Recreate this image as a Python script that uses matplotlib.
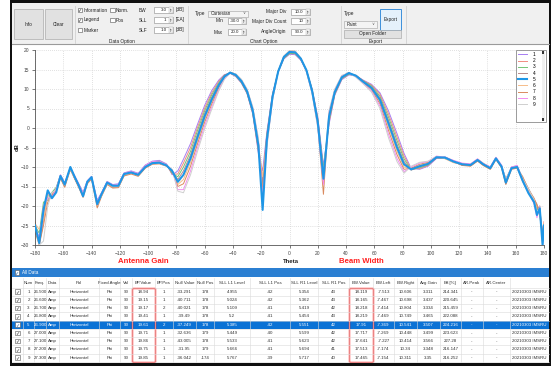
import matplotlib
matplotlib.use("Agg")
import matplotlib.pyplot as plt
from matplotlib.patches import Rectangle

plt.rcParams['font.family'] = ['Liberation Sans', 'DejaVu Sans']

W, H = 551, 366

# 放射パターン (Theta [deg] vs dB)
theta_deg = [-180, -177, -174, -171, -168, -165, -162, -159, -155, -152,
             -149, -146, -143, -140, -136, -133, -129, -125, -121, -117,
             -112, -107, -102, -97, -92, -87, -83, -79, -75, -70,
             -65, -60, -55, -50, -46, -42, -38, -34, -30, -26,
             -22, -19, -16, -12, -8, -4, 0, 4, 8, 12,
             16, 20, 24, 28, 32, 37, 42, 47, 52, 58,
             64, 70, 76, 81, 86, 92, 98, 104, 110, 116,
             122, 128, 133, 137, 142, 146, 150, 153, 157, 161,
             165, 169, 173, 175, 177, 179, 180]

gain_1 = [-25.5, -28.0, -22.0, -17.0, -17.0, -15.5, -12.0, -14.0, -10.3, -12.2,
          -14.3, -16.5, -13.5, -12.4, -18.5, -16.6, -13.7, -14.5, -14.3, -11.5,
          -11.0, -11.6, -9.5, -8.5, -8.3, -9.2, -12.0, -11.0, -8.0, -4.0,
          1.0, 5.8, 9.6, 12.3, 13.7, 14.0, 13.2, 11.5, 8.8, 3.6,
          -6.5, -11.0, -1.0, 8.8, 14.4, 17.7, 18.9, 18.8, 17.4, 14.7,
          10.0, 2.8, -9.5, 1.0, 8.4, 12.4, 13.6, 13.4, 12.3, 11.2,
          9.0, 4.4, -1.4, -6.5, -10.3, -10.6, -9.8, -7.8, -7.4, -8.4,
          -9.1, -9.4, -8.0, -9.1, -10.0, -7.6, -9.6, -13.2, -10.0, -9.7,
          -13.0, -16.0, -18.5, -20.5, -21.5, -28.0, -25.5]
gain_2 = [-24.0, -30.0, -24.0, -16.5, -17.5, -16.0, -12.5, -14.8, -10.2, -12.8,
          -15.0, -17.0, -14.0, -12.9, -19.2, -17.2, -14.2, -15.0, -14.9, -12.0,
          -11.5, -12.1, -9.9, -8.8, -8.6, -9.4, -11.8, -11.8, -9.0, -5.0,
          0.2, 5.1, 9.0, 12.0, 13.6, 14.1, 13.3, 11.6, 8.9, 3.8,
          -6.0, -13.0, -1.5, 8.6, 14.5, 17.9, 19.1, 19.0, 17.5, 14.8,
          9.9, 2.5, -11.0, 1.5, 8.6, 12.6, 13.8, 13.5, 12.2, 11.0,
          8.6, 3.6, -2.3, -7.2, -10.5, -10.4, -9.6, -7.6, -7.7, -8.8,
          -9.4, -9.7, -8.3, -9.5, -10.5, -7.9, -10.1, -14.3, -10.5, -10.2,
          -13.8, -16.5, -19.2, -20.0, -20.8, -27.0, -24.0]
gain_3 = [-25.0, -27.0, -19.0, -18.5, -16.5, -15.2, -12.2, -14.2, -10.6, -12.4,
          -14.6, -16.8, -13.7, -12.6, -19.0, -16.9, -13.9, -14.7, -14.6, -11.7,
          -11.2, -11.8, -9.7, -8.7, -8.5, -9.4, -11.6, -12.5, -10.0, -6.0,
          -0.6, 4.4, 8.5, 11.6, 13.5, 14.1, 13.4, 11.7, 9.0, 4.0,
          -5.5, -15.0, -2.0, 8.4, 14.5, 17.9, 19.1, 19.1, 17.6, 14.8,
          9.8, 2.1, -10.5, 2.0, 8.8, 12.7, 13.8, 13.4, 12.1, 10.8,
          8.1, 2.8, -3.2, -7.9, -10.7, -10.2, -9.5, -7.5, -7.5, -8.5,
          -9.2, -9.5, -8.1, -9.2, -10.2, -7.7, -9.8, -13.6, -10.2, -9.9,
          -13.4, -16.2, -18.8, -21.0, -20.0, -29.0, -25.0]
gain_4 = [-26.0, -29.0, -21.5, -17.5, -17.0, -16.2, -12.8, -15.0, -10.0, -12.9,
          -15.2, -17.3, -14.1, -13.0, -19.8, -17.4, -14.3, -15.2, -15.1, -12.1,
          -11.6, -12.2, -10.1, -9.0, -8.9, -9.6, -11.3, -13.2, -11.0, -6.9,
          -1.5, 3.7, 7.9, 11.3, 13.4, 14.2, 13.5, 11.9, 9.2, 4.3,
          -5.0, -14.0, -2.5, 8.2, 14.5, 18.0, 19.3, 19.3, 17.7, 14.8,
          9.6, 1.8, -12.0, 2.5, 9.0, 12.9, 14.0, 13.5, 12.0, 10.5,
          7.7, 2.0, -4.1, -8.6, -10.8, -10.0, -9.3, -7.7, -7.8, -8.7,
          -9.5, -9.6, -8.4, -9.4, -10.4, -8.0, -10.0, -13.0, -10.4, -10.1,
          -12.8, -15.5, -18.3, -19.5, -22.0, -26.5, -26.0]
gain_5 = [-25.0, -29.5, -21.0, -16.0, -18.0, -16.5, -12.3, -14.5, -10.0, -12.5,
          -14.8, -17.5, -13.8, -12.6, -19.5, -17.0, -14.0, -14.8, -14.8, -11.8,
          -11.4, -12.0, -10.0, -9.0, -8.9, -9.6, -11.0, -13.8, -12.0, -7.8,
          -2.3, 3.0, 7.3, 11.0, 13.2, 14.2, 13.6, 12.0, 9.4, 4.5,
          -4.5, -21.0, -3.0, 8.0, 14.5, 18.2, 19.5, 19.4, 17.8, 14.8,
          9.5, 1.5, -13.0, 3.0, 9.2, 13.0, 14.1, 13.4, 11.9, 10.3,
          7.2, 1.2, -5.0, -9.3, -10.6, -9.8, -9.2, -7.5, -7.6, -8.6,
          -9.3, -9.5, -8.2, -9.3, -10.3, -7.8, -9.9, -14.0, -10.3, -10.0,
          -13.6, -16.7, -19.0, -22.3, -20.6, -30.0, -25.0]
gain_6 = [-24.5, -26.0, -23.5, -17.0, -16.8, -15.8, -12.6, -14.6, -10.4, -12.6,
          -14.9, -17.0, -13.9, -12.8, -19.3, -17.1, -14.1, -14.9, -14.7, -11.9,
          -11.3, -11.9, -9.8, -8.9, -8.8, -9.5, -10.9, -14.5, -13.2, -8.8,
          -3.2, 2.2, 6.7, 10.6, 13.1, 14.3, 13.7, 12.1, 9.5, 4.7,
          -4.0, -12.5, -3.5, 7.8, 14.5, 18.3, 19.6, 19.5, 17.8, 14.7,
          9.3, 1.1, -11.5, 3.4, 9.4, 13.2, 14.1, 13.3, 11.8, 10.0,
          6.7, 0.3, -5.9, -10.0, -10.5, -9.6, -9.0, -7.3, -7.9, -8.9,
          -9.2, -9.3, -8.0, -9.0, -10.1, -7.6, -9.7, -13.4, -10.1, -9.8,
          -13.2, -16.0, -18.6, -20.2, -21.0, -28.5, -24.5]
gain_7 = [-26.5, -30.0, -25.0, -19.0, -17.2, -16.0, -12.9, -15.2, -10.7, -13.0,
          -15.3, -17.8, -14.3, -13.1, -20.5, -17.6, -14.5, -15.4, -15.3, -12.3,
          -11.8, -12.4, -10.3, -9.3, -9.2, -9.8, -10.7, -15.0, -14.3, -9.8,
          -4.0, 1.5, 6.1, 10.3, 13.0, 14.3, 13.8, 12.3, 9.7, 5.0,
          -3.5, -16.0, -4.0, 7.6, 14.6, 18.4, 19.8, 19.7, 17.9, 14.6,
          9.1, 0.7, -17.0, 3.8, 9.6, 13.3, 14.2, 13.3, 11.7, 9.8,
          6.2, -0.6, -6.8, -10.6, -10.3, -9.3, -8.8, -7.4, -7.7, -8.5,
          -9.6, -9.8, -8.5, -9.6, -10.6, -8.1, -10.2, -14.5, -10.6, -10.3,
          -12.5, -15.8, -18.0, -19.8, -22.5, -27.5, -26.5]
gain_8 = [-25.5, -28.5, -20.0, -18.0, -17.8, -15.5, -12.1, -14.3, -10.1, -12.3,
          -14.5, -16.6, -13.6, -12.5, -18.8, -16.8, -13.8, -14.6, -14.5, -11.6,
          -11.1, -11.7, -9.6, -8.6, -8.5, -9.4, -10.8, -15.8, -15.8, -11.0,
          -5.0, 0.6, 5.4, 9.8, 12.7, 14.1, 13.8, 12.3, 9.8, 5.2,
          -3.0, -17.5, -4.5, 7.3, 14.4, 18.3, 19.7, 19.6, 17.7, 14.4,
          8.9, 0.3, -14.5, 4.2, 9.8, 13.4, 14.1, 13.1, 11.5, 9.5,
          5.6, -1.6, -7.8, -11.2, -10.0, -9.0, -8.6, -7.2, -7.5, -8.3,
          -9.0, -9.2, -7.9, -9.1, -10.0, -7.5, -9.5, -13.8, -10.0, -9.6,
          -13.5, -16.4, -19.5, -23.0, -20.0, -30.0, -25.5]
gain_9 = [-24.8, -30.0, -29.0, -20.0, -16.5, -15.9, -12.4, -14.7, -10.5, -12.7,
          -15.0, -17.2, -14.0, -12.9, -19.6, -17.3, -14.2, -15.0, -15.0, -12.0,
          -11.5, -12.1, -10.0, -9.1, -9.0, -9.7, -10.6, -16.2, -16.6, -12.0,
          -5.9, -0.2, 4.8, 9.5, 12.5, 14.1, 13.9, 12.5, 10.0, 5.5,
          -2.5, -19.5, -5.0, 7.1, 14.4, 18.4, 19.8, 19.7, 17.8, 14.4,
          8.7, 0.0, -12.5, 4.6, 10.0, 13.5, 14.1, 13.0, 11.4, 9.2,
          5.0, -2.5, -8.6, -11.6, -9.8, -8.8, -8.5, -7.3, -7.8, -8.7,
          -9.3, -9.4, -8.1, -9.2, -10.2, -7.7, -9.8, -13.0, -10.2, -9.9,
          -13.0, -15.7, -18.4, -21.2, -21.5, -29.0, -24.8]

series_labels = ['1', '2', '3', '4', '5', '6', '7', '8', '9']
series_colors = ['#a77ef2', '#f28b82', '#74c476', '#b58b8b', '#1e96e6',
                 '#f6bd8a', '#d98a5f', '#f28cf0', '#cfcfcf']

# 測定結果テーブル
row_num = ['1', '2', '3', '4', '5', '6', '7', '8', '9']
freq = ['26.500', '26.600', '26.700', '26.800', '26.900', '27.000', '27.100', '27.200', '27.300']
data_kind = ['Amp'] * 9
pol = ['Horizontal'] * 9
fixed_angle = ['Phi'] * 9
val = ['90'] * 9
bp_value = ['18.94', '19.15', '19.17', '19.41', '19.61', '19.71', '19.86', '19.75', '19.85']
bp_pos = ['1', '1', '2', '1', '2', '1', '1', '1', '1']
null_value = ['-33.291', '-40.711', '-40.021', '-39.49', '-37.249', '-32.636', '-43.005', '-31.95', '-36.042']
null_pos = ['178', '178', '178', '178', '178', '179', '178', '179', '-174']
sll_l1_level = ['4.955', '5.024', '5.109', '5.2', '5.385', '5.449', '5.533', '5.666', '5.767']
sll_l1_pos = ['-42', '-42', '-41', '-41', '-42', '-40', '-41', '-41', '-39']
sll_r1_level = ['5.354', '5.362', '5.419', '5.454', '5.551', '5.599', '5.623', '5.694', '5.717']
sll_r1_pos = ['43', '43', '42', '43', '42', '42', '42', '41', '40']
bw_value = ['18.119', '18.165', '18.218', '18.219', '17.91', '17.717', '17.641', '17.513', '17.465']
bw_left = ['-7.513', '-7.467', '-7.414', '-7.469', '-7.369', '-7.269', '-7.227', '-7.174', '-7.154']
bw_right = ['10.606', '10.698', '10.804', '10.749', '10.541', '10.448', '10.414', '10.34', '10.311']
avg_gain = ['3.311', '3.437', '3.334', '3.465', '3.507', '3.499', '3.566', '3.348', '3.35']
eff_pct = ['214.341', '220.645', '215.459', '222.088', '224.216', '223.623', '227.28', '216.147', '216.252']
ar_peak = ['-'] * 9
ar_center = ['-'] * 9
file_name = ['20210303 IMSRU'] * 9

fig = plt.figure(figsize=(W / 100, H / 100), dpi=100)

# 画面全体（ピクセル座標, y は下向き）
ui = fig.add_axes([0, 0, 1, 1])
ui.set_xlim(0, W)
ui.set_ylim(H, 0)
ui.axis('off')

GUI = 3.4


def box(x, y, w, h, **kw):
    ui.add_patch(Rectangle((x, y), w, h, **kw))


def label(x, y, s, **kw):
    kw.setdefault('fontsize', GUI)
    kw.setdefault('va', 'center')
    kw.setdefault('color', '#202020')
    ui.text(x, y, s, **kw)


def checkbox(x, y, checked, color='#222222', face='white'):
    box(x, y - 2.3, 4.6, 4.6, fc=face, ec='#555555', lw=0.4)
    if checked:
        label(x + 2.3, y + 0.1, '✓', ha='center', fontsize=3.6, color=color,
              family=['DejaVu Sans'])


def spin(x, y, w, h, txt):
    box(x, y, w, h, fc='white', ec='#8a8a8a', lw=0.4)
    box(x + w - 4.5, y, 4.5, h, fc='#f4f4f4', ec='#b0b0b0', lw=0.3)
    label(x + w - 6.5, y + h / 2, txt, ha='right', fontsize=3.2)
    label(x + w - 2.25, y + h * 0.3, '▴', ha='center', fontsize=2.2, color='#555')
    label(x + w - 2.25, y + h * 0.72, '▾', ha='center', fontsize=2.2, color='#555')


def combo(x, y, w, h, txt):
    box(x, y, w, h, fc='#f4f4f4', ec='#a0a0a0', lw=0.4)
    label(x + 2.5, y + h / 2, txt, fontsize=3.3)
    label(x + w - 4, y + h / 2, '∨', ha='center', fontsize=3.0, color='#666',
          family=['DejaVu Sans'])


def button(x, y, w, h, txt, ec='#adadad', fc='#e1e1e1', lw=0.5):
    box(x, y, w, h, fc=fc, ec=ec, lw=lw)
    label(x + w / 2, y + h / 2, txt, ha='center')


# ウィンドウと各パネル
box(12, 3, 537, 360, fc='white', ec='none')
box(12, 3, 537, 41, fc='#f0f0f0', ec='none')
ui.axhline(44.2, xmin=12 / W, xmax=549 / W, color='#9a9a9a', lw=0.8)
for sx in (75, 188, 341, 406):
    ui.axvline(sx, ymin=1 - 43 / H, ymax=1 - 6 / H, color='#d2d2d2', lw=0.6)

button(14, 9, 29, 30, 'Info')
button(45, 9, 27, 30, 'Clear')

checkbox(77.5, 10, True)
label(83.5, 10, 'Information')
checkbox(77.5, 20, True)
label(83.5, 20, 'Legend')
checkbox(77.5, 30, False)
label(83.5, 30, 'Marker')
checkbox(110, 10, False)
label(116, 10, 'Norm.')
checkbox(110, 20, False)
label(116, 20, 'Pos')

for yy, name, v, unit in [(10, 'BW', '3.0', '[dB]'), (20, 'SLL', '1', '[EA]'),
                          (30, 'SLF', '1.0', '[dB]')]:
    label(139, yy, name)
    spin(154, yy - 3, 19, 6, v)
    label(176, yy, unit)
label(122, 41.5, 'Data Option', ha='center')

label(195, 13.5, 'Type')
combo(208, 10.5, 40, 6, 'Cartesian')
label(223, 21, 'Min', ha='right')
spin(228, 18, 18, 6, '-30.0')
label(223, 32, 'Max', ha='right')
spin(228, 29, 18, 6, '20.0')
label(286, 12, 'Major Div', ha='right')
spin(291, 9, 19, 6, '10.0')
label(286, 21, 'Major Div Count', ha='right')
spin(291, 18, 19, 6, '10')
label(286, 32, 'AngleOrigin', ha='right')
spin(291, 29, 19, 6, '90.0')
label(264, 41.5, 'Chart Option', ha='center')

label(344, 14, 'Type')
combo(344, 20.5, 33, 7, 'Paint')
button(380, 8.5, 20.5, 21, 'Export', ec='#3c8fdb', fc='#e5f1fb', lw=0.7)
button(344, 30, 56.5, 8, 'Open Folder')
label(376, 41.5, 'Export', ha='center')

# パターンのグラフ
ax = fig.add_axes([35 / W, (H - 245) / H, 509 / W, 195 / H])
gains = [gain_1, gain_2, gain_3, gain_4, gain_5, gain_6, gain_7, gain_8, gain_9]
for g, c, lab in zip(gains, series_colors, series_labels):
    thick = lab == '5'
    ax.plot(theta_deg, g, color=c, lw=1.5 if thick else 0.7,
            zorder=3 if thick else 2, label=lab)

ax.set_xlim(-180, 180)
ax.set_ylim(-30, 20)
ax.set_xticks(range(-180, 181, 20))
ax.set_yticks(range(-30, 21, 5))
ax.grid(True, ls=(0, (1, 2)), color='#c4c4c4', lw=0.5)
ax.tick_params(labelsize=3.5, length=2, width=0.5, colors='#444444', pad=2)
for side in ('top', 'right'):
    ax.spines[side].set_visible(False)
for side in ('left', 'bottom'):
    ax.spines[side].set_color('#555555')
    ax.spines[side].set_linewidth(0.6)

# 凡例枠とスクロールバー
ax.add_patch(Rectangle((516, 50), 30, 72, transform=ui.transData, fc='white',
                       ec='#8c8c8c', lw=0.6, zorder=4, clip_on=False))
ax.add_patch(Rectangle((541.5, 51), 3, 70, transform=ui.transData, fc='#f0f0f0',
                       ec='none', zorder=4.2, clip_on=False))
ax.add_patch(Rectangle((541.7, 51.2), 2.6, 2.8, transform=ui.transData, fc='#333333',
                       ec='none', zorder=4.3, clip_on=False))
ax.add_patch(Rectangle((541.7, 118), 2.6, 2.8, transform=ui.transData, fc='#333333',
                       ec='none', zorder=4.3, clip_on=False))
leg = ax.legend(loc='upper left', bbox_to_anchor=((518 - 35) / 509, (245 - 52) / 195),
                frameon=False, fontsize=3.5, handlelength=1.9, handletextpad=1.2,
                labelspacing=0.25, borderpad=0, borderaxespad=0)
leg.set_zorder(5)

label(17, 147, 'dB', ha='center', rotation=90, fontsize=4.2, weight='bold')
label(291, 261.5, 'Theta', ha='center', fontsize=4.3, weight='bold')
label(143.5, 261.5, 'Antenna Gain', ha='center', fontsize=5.6, weight='bold', color='#ff2020')
label(361, 261.5, 'Beam Width', ha='center', fontsize=5.6, weight='bold', color='#ff2020')

# テーブル
box(12, 268, 537, 9, fc='#2b7fd2', ec='none')
checkbox(14.5, 272.5, True, color='#1b5fa8')
label(21.5, 272.5, 'All Data', color='white', fontsize=3.3)

headers = ['', 'Num', 'Freq.', 'Data', 'Pol', 'Fixed Angle', 'Val', 'BP.Value', 'BP.Pos',
           'Null Value', 'Null Pos', 'SLL L1 Level', 'SLL L1 Pos', 'SLL R1 Level',
           'SLL R1 Pos', 'BW.Value', 'BW.Left', 'BW.Right', 'Avg.Gain', 'Eff.[%]',
           'AR.Peak', 'AR.Center', '']
columns = [row_num, freq, data_kind, pol, fixed_angle, val, bp_value, bp_pos, null_value,
           null_pos, sll_l1_level, sll_l1_pos, sll_r1_level, sll_r1_pos, bw_value, bw_left,
           bw_right, avg_gain, eff_pct, ar_peak, ar_center]
col_edges = [12, 23, 34, 46, 59, 99, 120, 132, 155, 173, 196, 214, 250, 290, 318, 349,
             373, 394, 417, 440, 461, 483, 510, 549]

head_top, head_h, row_h = 278, 9.5, 8.25
rows_top = head_top + head_h
n_rows = len(row_num)
table_bottom = rows_top + n_rows * row_h

sel = 4
box(12, rows_top + sel * row_h, 537, row_h, fc='#0b72d5', ec='none')

for k in range(n_rows + 1):
    ui.axhline(rows_top + k * row_h, xmin=12 / W, xmax=549 / W, color='#dadada', lw=0.4)
for e in col_edges[1:-1]:
    ui.axvline(e, ymin=1 - table_bottom / H, ymax=1 - head_top / H, color='#dadada', lw=0.4)

for c, h in enumerate(headers):
    cx = (col_edges[c] + col_edges[c + 1]) / 2
    label(cx, head_top + head_h / 2, h, ha='center', fontsize=3.2, color='#303030')

for r in range(n_rows):
    cy = rows_top + r * row_h + row_h / 2
    fg = 'white' if r == sel else '#303030'
    checkbox(15, cy, True, color='#1b5fa8' if r == sel else '#333333')
    for c, col in enumerate(columns, start=1):
        cx = (col_edges[c] + col_edges[c + 1]) / 2
        label(cx, cy, col[r], ha='center', fontsize=3.2, color=fg)
    label(col_edges[-2] + 2, cy, file_name[r], fontsize=3.2, color=fg)

for c0, c1 in ((7, 8), (15, 16)):
    box(col_edges[c0], rows_top + 0.5, col_edges[c1] - col_edges[c0],
        table_bottom - rows_top - 0.5, fc='none', ec='#ff1a1a', lw=1.0)

# ウィンドウ枠
box(10, 0, 541, 3, fc='#101010', ec='none')
box(10, 0, 2, 366, fc='#101010', ec='none')
box(549, 0, 2, 366, fc='#101010', ec='none')
box(10, 363, 541, 3, fc='#101010', ec='none')

fig.savefig('out.png', dpi=100)
